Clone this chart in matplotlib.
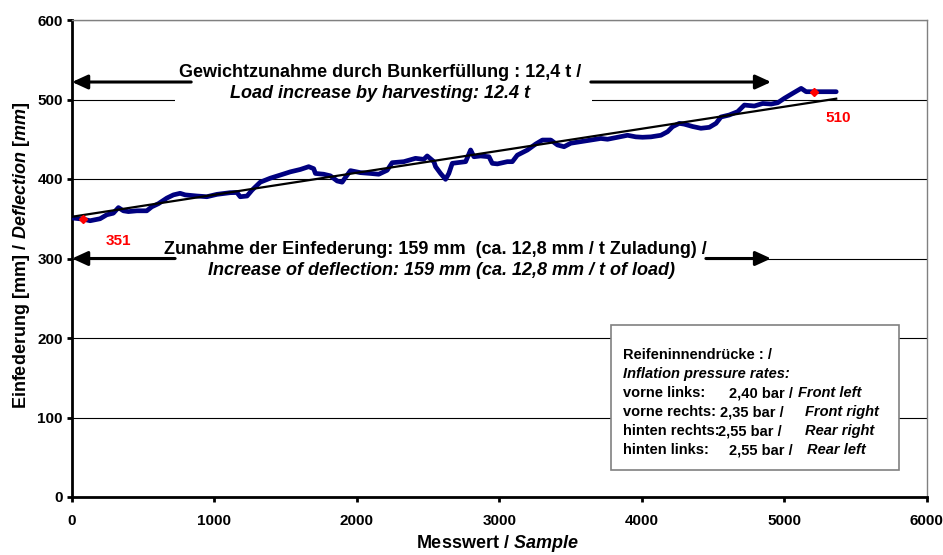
import matplotlib
matplotlib.use("Agg")
import matplotlib.pyplot as plt
from matplotlib.patches import Rectangle

plt.rcParams['font.family'] = ['Liberation Sans', 'DejaVu Sans']
plt.rcParams['font.weight'] = 'bold'
plt.rcParams['mathtext.fontset'] = 'custom'
plt.rcParams['mathtext.rm'] = 'Liberation Sans:bold'
plt.rcParams['mathtext.bf'] = 'Liberation Sans:bold'
plt.rcParams['mathtext.it'] = 'Liberation Sans:italic:bold'

# ---- data ----
sample = [0, 79, 127, 197, 244, 290, 326, 361, 396, 455, 525, 560, 607, 666, 712,
          759, 795, 877, 947, 1018, 1111, 1158, 1181, 1229, 1264, 1322, 1392, 1463,
          1533, 1603, 1662, 1697, 1709, 1767, 1814, 1862, 1897, 1920, 1955, 2025,
          2096, 2154, 2213, 2248, 2330, 2412, 2470, 2494, 2541, 2553, 2588, 2623,
          2646, 2670, 2705, 2764, 2799, 2822, 2869, 2928, 2951, 2987, 3057, 3092,
          3127, 3198, 3256, 3303, 3362, 3409, 3455, 3502, 3572, 3643, 3713, 3760,
          3831, 3901, 3959, 4006, 4065, 4135, 4182, 4217, 4264, 4299, 4358, 4416,
          4475, 4522, 4557, 4615, 4674, 4721, 4791, 4850, 4909, 4956, 5002, 5061,
          5120, 5155, 5213, 5366]
deflection = [351, 349.5, 347.5, 350, 355, 357, 364, 360, 359, 360, 360, 365, 369, 376,
              380, 382, 380, 378.6, 377.7, 380.7, 382.8, 383, 377.7, 378.6, 386, 396,
              401, 405, 409, 412, 415.5, 413, 407, 406, 404, 397.5, 396, 402, 410.5,
              408, 407, 406, 411, 420.5, 421.8, 426, 424.7, 429, 421.8, 415.5, 407,
              399.6, 407, 419.7, 420.5, 421.8, 436.5, 428, 429, 428, 419.7, 419, 421.8,
              421.8, 430, 436.5, 444, 449, 449, 442.8, 440.6, 445, 447, 449, 451, 450,
              452.5, 455, 453, 452.5, 453, 455, 459.5, 465.8, 470, 469, 466, 463.8,
              465, 470, 478, 480.5, 484.7, 493, 491.8, 495, 494.3, 496, 501.5, 507.8,
              514, 509.8, 509.8, 509.8]

trend_x = [0, 5366]
trend_y = [352.5, 501]

mark_x = [79, 5213]
mark_y = [350, 510]
mark_labels = ['351', '510']

pressure_rows = [
    ('vorne links:', '2,40 bar /', 'Front left'),
    ('vorne rechts:', '2,35 bar /', 'Front right'),
    ('hinten rechts:', '2,55 bar /', 'Rear right'),
    ('hinten links:', '2,55 bar /', 'Rear left'),
]

fig = plt.figure(figsize=(9.43, 5.55), dpi=100)
ax = fig.add_axes([72 / 943, 1 - 497 / 555, (926.5 - 72) / 943, (497 - 20) / 555])

ax.plot(sample, deflection, color='#000080', lw=3.4, zorder=3,
        solid_joinstyle='round', solid_capstyle='round')
ax.plot(trend_x, trend_y, color='black', lw=1.6, zorder=4)
ax.plot(mark_x, mark_y, 'D', color='red', ms=4, zorder=5)
ax.text(323, 322, mark_labels[0], color='red', fontsize=11, ha='center', va='center', zorder=6)
ax.text(5380, 477, mark_labels[1], color='red', fontsize=11, ha='center', va='center', zorder=6)

ax.set_xlim(0, 6000)
ax.set_ylim(0, 600)
ax.set_xticks(range(0, 6001, 1000))
ax.set_yticks(range(0, 601, 100))
ax.tick_params(labelsize=11, width=2, length=3.6, direction='out')
ax.tick_params(axis='x', pad=8.5)
ax.tick_params(axis='y', pad=3)
ax.grid(axis='y', color='black', lw=0.8)
ax.set_axisbelow(True)
for side in ['left', 'bottom']:
    ax.spines[side].set_linewidth(2)
for side in ['top', 'right']:
    ax.spines[side].set_color('#808080')
    ax.spines[side].set_linewidth(1)

ax.set_xlabel(r'$\mathbf{Messwert\ /\ }\mathit{Sample}$', fontsize=13)
ax.set_ylabel(r'$\mathbf{Einfederung\ [mm]\ /\ }\mathit{Deflection\ [mm]}$', fontsize=13)
ax.xaxis.set_label_coords(0.498, -0.075)
ax.yaxis.set_label_coords(-0.0465, 0.507)

# white text boxes hiding the gridlines
ax.add_patch(Rectangle((724, 493), 3650 - 724, 52, facecolor='white', edgecolor='none', zorder=1))
ax.add_patch(Rectangle((724, 278), 4451 - 724, 45, facecolor='white', edgecolor='none', zorder=1))

ax.text(2166, 534, 'Gewichtzunahme durch Bunkerfüllung : 12,4 t /', fontsize=13,
        ha='center', va='center', zorder=6)
ax.text(2166, 508, 'Load increase by harvesting: 12.4 t', fontsize=13, style='italic',
        ha='center', va='center', zorder=6)
ax.text(2553, 311, 'Zunahme der Einfederung: 159 mm  (ca. 12,8 mm / t Zuladung) /', fontsize=13,
        ha='center', va='center', zorder=6)
ax.text(2595, 285.5, 'Increase of deflection: 159 mm (ca. 12,8 mm / t of load)', fontsize=13,
        style='italic', ha='center', va='center', zorder=6)

arrow = dict(arrowstyle='-|>,head_length=0.94,head_width=0.43', mutation_scale=10,
             color='black', lw=2.2, shrinkA=0, shrinkB=0)
ax.annotate('', xy=(0, 522), xytext=(837, 522), arrowprops=arrow, zorder=6)
ax.annotate('', xy=(4909, 522), xytext=(3643, 522), arrowprops=arrow, zorder=6)
ax.annotate('', xy=(0, 300), xytext=(724, 300), arrowprops=arrow, zorder=6)
ax.annotate('', xy=(4909, 300), xytext=(4451, 300), arrowprops=arrow, zorder=6)

# pressure box
ax.add_patch(Rectangle((3783, 34), 5809 - 3783, 182, facecolor='white', edgecolor='#808080',
                       lw=1.2, zorder=5))
ax.text(3868, 178.6, 'Reifeninnendrücke : /', fontsize=10.5, va='center', zorder=6)
ax.text(3868, 154.7, 'Inflation pressure rates:', fontsize=10.5, style='italic', va='center', zorder=6)
row_y = [130.8, 106.9, 83, 58.5]
val_x = [4613, 4550, 4536, 4613]
it_x = [5098, 5148, 5148, 5162]
for (lab, val, eng), yy, vx, ix in zip(pressure_rows, row_y, val_x, it_x):
    ax.text(3868, yy, lab, fontsize=10.5, va='center', zorder=6)
    ax.text(vx, yy, val, fontsize=10.5, va='center', zorder=6)
    ax.text(ix, yy, eng, fontsize=10.5, style='italic', va='center', zorder=6)

plt.savefig('out.png', dpi=100)
plt.close()
